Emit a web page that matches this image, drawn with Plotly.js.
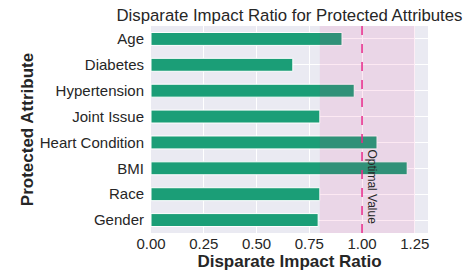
<!DOCTYPE html>
<html>
<head>
<meta charset="utf-8">
<script src="https://cdn.plot.ly/plotly-3.0.1.min.js"></script>
<style>html,body{margin:0;padding:0;background:#fff;}#chart{width:467px;height:276px;}</style>
</head>
<body>
<div id="chart"></div>
<script>
const attributes = ["Age", "Diabetes", "Hypertension", "Joint Issue", "Heart Condition", "BMI", "Race", "Gender"];
const ratios = [0.905, 0.672, 0.963, 0.800, 1.071, 1.214, 0.800, 0.792];
const fairLower = 0.8;
const fairUpper = 1.25;
const optimalValue = 1.0;

const font = "'Liberation Sans', Arial, sans-serif";
const dark = "#262626";

const trace = {
  type: "bar",
  orientation: "h",
  y: attributes,
  x: ratios,
  width: 0.5,
  marker: { color: "#1b9e77", line: { color: "#ffffff", width: 1 } },
  hoverinfo: "skip"
};

const layout = {
  width: 467,
  height: 276,
  margin: { l: 151, r: 39, t: 26, b: 43, pad: 0 },
  paper_bgcolor: "#ffffff",
  plot_bgcolor: "#EAEAF2",
  font: { family: font, color: dark, size: 15 },
  showlegend: false,
  title: {
    text: "Disparate Impact Ratio for Protected Attributes",
    font: { family: font, size: 16.8, color: dark },
    x: 0.5, xref: "paper", xanchor: "center",
    y: 1 - 15.5 / 276, yref: "container", yanchor: "middle"
  },
  xaxis: {
    range: [0, 1.3125],
    dtick: 0.25,
    tick0: 0,
    tickformat: ".2f",
    showgrid: true,
    gridcolor: "#ffffff",
    gridwidth: 1,
    zeroline: false,
    showline: false,
    ticks: "",
    tickfont: { family: font, size: 15, color: dark },
    title: { text: "<b>Disparate Impact Ratio</b>", font: { family: font, size: 17, color: dark }, standoff: 3 }
  },
  yaxis: {
    type: "category",
    categoryorder: "array",
    categoryarray: attributes,
    autorange: "reversed",
    showgrid: true,
    gridcolor: "#ffffff",
    gridwidth: 1,
    zeroline: false,
    showline: false,
    ticks: "outside",
    ticklen: 3,
    tickcolor: "rgba(0,0,0,0)",
    tickfont: { family: font, size: 15, color: dark },
    title: { text: "<b>Protected Attribute</b>", font: { family: font, size: 17, color: dark }, standoff: 1 }
  },
  shapes: [
    {
      type: "rect", xref: "x", yref: "paper",
      x0: fairLower, x1: fairUpper, y0: 0, y1: 1,
      fillcolor: "#e7298a", opacity: 0.1, line: { width: 0 }, layer: "above"
    },
    {
      type: "line", xref: "x", yref: "paper",
      x0: optimalValue, x1: optimalValue, y0: 0, y1: 1,
      line: { color: "#e7298a", width: 1.5, dash: "dash" }, layer: "above"
    }
  ],
  annotations: [
    {
      text: "Optimal Value",
      x: optimalValue, xref: "x", xanchor: "left", xshift: 1,
      y: 0.225, yref: "paper", yanchor: "middle",
      textangle: 90,
      showarrow: false,
      font: { family: font, size: 12, color: dark }
    }
  ]
};

Plotly.newPlot("chart", [trace], layout, { displayModeBar: false, staticPlot: true });
</script>
</body>
</html>
